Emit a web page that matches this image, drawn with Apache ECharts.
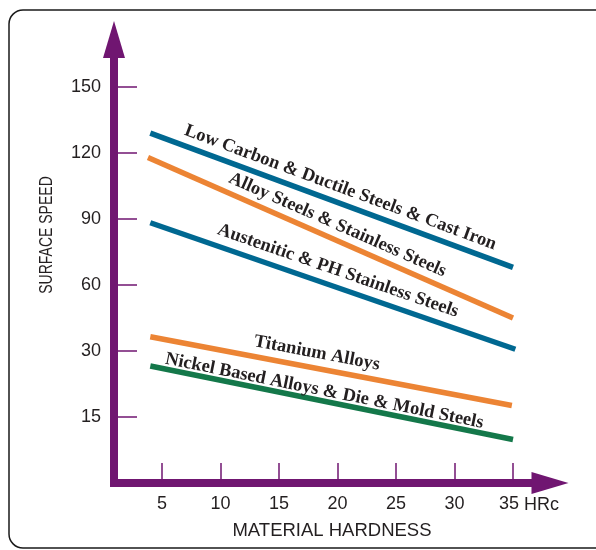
<!DOCTYPE html>
<html><head><meta charset="utf-8">
<script src="https://cdn.jsdelivr.net/npm/echarts@6/dist/echarts.min.js"></script>
<style>html,body{margin:0;padding:0;background:#fff}#c{width:596px;height:550px}</style>
</head><body><div id="c"></div>
<script>
// ---- data ----
const hardnessTicks = [5, 10, 15, 20, 25, 30, 35];
const speedBreaks = [0, 15, 30, 60, 90, 120, 150];
const speedTickLabels = ['15', '30', '60', '90', '120', '150'];
const seriesNames = [
  'Low Carbon & Ductile Steels & Cast Iron',
  'Alloy Steels & Stainless Steels',
  'Austenitic & PH Stainless Steels',
  'Titanium Alloys',
  'Nickel Based Alloys & Die & Mold Steels'
];
const startHardness = [4, 3.8, 4, 4, 4];
const endHardness = [35, 35, 35.2, 34.9, 35];
const startSpeed = [129, 118, 88.3, 36.5, 26.6];
const endSpeed = [68, 45, 30.8, 17.6, 9.9];
const labelHardness = [19.8, 19.5, 19.6, 18.0, 18.7];

// ---- styles ----
const lineColors = ['#006891', '#ec8434', '#006891', '#ec8434', '#14784a'];
const labelGaps = [15, 14.5, 16, 15, 10];
const purple = '#701671';

function toIdx(s) {
  for (let i = 0; i < speedBreaks.length - 1; i++) {
    if (s <= speedBreaks[i + 1]) return i + (s - speedBreaks[i]) / (speedBreaks[i + 1] - speedBreaks[i]);
  }
  return speedBreaks.length - 1;
}

const chart = echarts.init(document.getElementById('c'), null, {renderer: 'canvas'});
const pxPerUnit = 11.7, gridLeft = 114, gridRight = 550, gridTop = 39.5, gridBottom = 483;
const xMin = 5 - (162 - gridLeft) / pxPerUnit;
const xMax = xMin + (gridRight - gridLeft) / pxPerUnit;
const yMax = (gridBottom - gridTop) / 66;

const series = seriesNames.map((n, i) => ({
  name: n, type: 'line', symbol: 'none', silent: true, z: 3,
  lineStyle: {color: lineColors[i], width: 5.5},
  data: [[startHardness[i], toIdx(startSpeed[i])], [endHardness[i], toIdx(endSpeed[i])]]
}));

chart.setOption({
  animation: false,
  backgroundColor: '#fff',
  grid: {left: gridLeft, top: gridTop, width: gridRight - gridLeft, height: gridBottom - gridTop},
  xAxis: {
    type: 'value', min: xMin, max: xMax,
    name: 'MATERIAL HARDNESS', nameLocation: 'middle', nameGap: 38,
    nameTextStyle: {fontFamily: 'Liberation Sans', fontSize: 18.5, color: '#231f20'},
    splitLine: {show: false},
    axisLine: {show: true, symbol: ['none', 'triangle'], symbolSize: [22, 37],
      lineStyle: {color: purple, width: 8, cap: 'square'}},
    axisTick: {show: true, inside: true, length: 20, customValues: hardnessTicks,
      lineStyle: {color: purple, width: 1.5}},
    axisLabel: {show: true, margin: 12, customValues: hardnessTicks,
      formatter: v => (v === 35 ? '{s|35}' : String(v)),
      rich: {s: {fontFamily: 'Liberation Sans', fontSize: 18, color: '#231f20', padding: [0, 8, 0, 0]}},
      fontFamily: 'Liberation Sans', fontSize: 18, color: '#231f20'}
  },
  yAxis: {
    type: 'value', min: 0, max: yMax,
    splitLine: {show: false},
    axisLine: {show: true, symbol: ['none', 'triangle'], symbolSize: [22, 37],
      lineStyle: {color: purple, width: 8, cap: 'square'}},
    axisTick: {show: true, inside: true, length: 23, customValues: [1, 2, 3, 4, 5, 6],
      lineStyle: {color: purple, width: 1.5}},
    axisLabel: {show: true, margin: 13, customValues: [1, 2, 3, 4, 5, 6],
      formatter: v => speedTickLabels[Math.round(v) - 1],
      fontFamily: 'Liberation Sans', fontSize: 18, color: '#231f20'}
  },
  graphic: [
    {type: 'rect', z: -10, shape: {x: 9, y: 10, width: 640, height: 538, r: 14},
      style: {fill: 'none', stroke: '#1a1a1a', lineWidth: 1.5}},
    {type: 'text', x: 524, y: 505, style: {text: 'HRc', fontFamily: 'Liberation Sans', fontSize: 18,
      fill: '#231f20', align: 'left', verticalAlign: 'middle'}},
    {type: 'text', x: 47, y: 235, rotation: Math.PI / 2, scaleX: 0.8,
      style: {text: 'SURFACE SPEED', fontFamily: 'Liberation Sans', fontSize: 17.5,
      fill: '#231f20', align: 'center', verticalAlign: 'middle'}}
  ],
  series: series
});

// labels along each line, placed via the chart's own scales
const labelSeries = seriesNames.map((n, i) => {
  const p0 = chart.convertToPixel({gridIndex: 0}, series[i].data[0]);
  const p1 = chart.convertToPixel({gridIndex: 0}, series[i].data[1]);
  const dx = p1[0] - p0[0], dy = p1[1] - p0[1];
  const ang = Math.atan2(dy, dx);
  const pxAt = chart.convertToPixel({gridIndex: 0}, [labelHardness[i], 0])[0];
  const t = (pxAt - p0[0]) / dx;
  const cx = p0[0] + t * dx, cy = p0[1] + t * dy;
  const len = Math.hypot(dx, dy);
  const nx = dy / len, ny = -dx / len; // perpendicular pointing up
  const g = labelGaps[i];
  const coord = chart.convertFromPixel({gridIndex: 0}, [cx + nx * g, cy + ny * g]);
  return {
    markPoint: {
      silent: true, symbol: 'circle', symbolSize: 1, itemStyle: {color: 'rgba(0,0,0,0)'},
      label: {show: true, position: 'inside', formatter: n, rotate: -ang * 180 / Math.PI,
        fontFamily: 'Liberation Serif', fontWeight: 'bold', fontSize: 18.5, color: '#231f20'},
      data: [{coord: coord}]
    }
  };
});
chart.setOption({series: labelSeries});
</script></body></html>
